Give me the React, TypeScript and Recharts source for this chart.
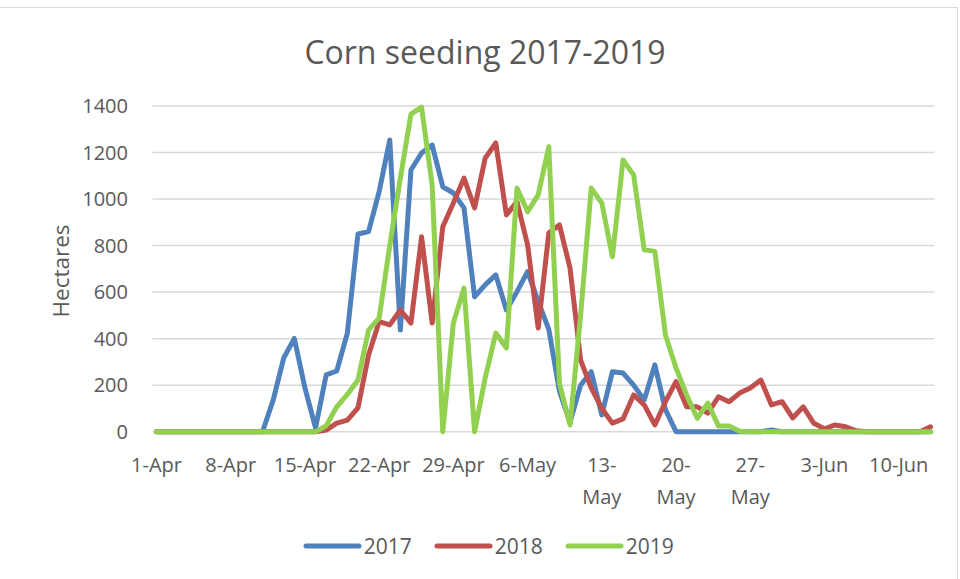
import { CartesianGrid, Legend, Line, LineChart, XAxis, YAxis } from "recharts";

const months: [string, number][] = [
  ["Apr", 30],
  ["May", 31],
  ["Jun", 13]
];
const dates = months.flatMap(([m, n]) => Array.from({ length: n }, (_, i) => `${i + 1}-${m}`));

const tickLabels = ["1-Apr", "8-Apr", "15-Apr", "22-Apr", "29-Apr", "6-May", "13-May", "20-May", "27-May", "3-Jun", "10-Jun"];
const wrappedTicks = ["13-May", "20-May", "27-May"];
const yTicks = [0, 200, 400, 600, 800, 1000, 1200, 1400];

const y2017 = [
  0, 0, 0, 0, 0, 0, 0, 0, 0, 0, 0, 135, 317, 401, 188, 16, 244, 261, 424, 850,
  860, 1032, 1254, 437, 1125, 1198, 1232, 1053, 1026, 962, 580, 631, 674, 523, 602, 688, 560, 440, 175, 40,
  200, 258, 72, 258, 252, 200, 136, 287, 95, 0, 0, 0, 0, 0, 0, 0, 0, 0, 8, 0,
  0, 0, 0, 0, 0, 0, 0, 0, 0, 0, 0, 0, 0, 0
];
const y2018 = [
  0, 0, 0, 0, 0, 0, 0, 0, 0, 0, 0, 0, 0, 0, 0, 0, 7, 37, 50, 102,
  330, 473, 459, 523, 467, 838, 467, 881, 983, 1090, 962, 1176, 1241, 932, 989, 803, 446, 854, 889, 704,
  308, 188, 100, 37, 55, 158, 115, 29, 129, 215, 107, 107, 80, 150, 129, 166, 188, 222, 115, 129,
  59, 107, 36, 12, 29, 21, 4, 0, 0, 0, 0, 0, 0, 21
];
const y2019 = [
  0, 0, 0, 0, 0, 0, 0, 0, 0, 0, 0, 0, 0, 0, 0, 0, 25, 107, 160, 222,
  437, 489, 800, 1090, 1365, 1395, 1060, 0, 467, 617, 0, 231, 424, 360, 1047, 946, 1018, 1225, 209, 29,
  500, 1047, 983, 752, 1168, 1104, 782, 775, 416, 274, 158, 58, 123, 25, 25, 2, 0, 0, 0, 0,
  0, 0, 0, 0, 0, 0, 0, 0, 0, 0, 0, 0, 0, 0
];

const data = dates.map((date, i) => ({ date, y2017: y2017[i], y2018: y2018[i], y2019: y2019[i] }));

const series = [
  { key: "y2017", name: "2017", color: "#4f81bd" },
  { key: "y2018", name: "2018", color: "#c0504d" },
  { key: "y2019", name: "2019", color: "#92d050" }
];

const font = "'Open Sans', 'Noto Sans', sans-serif";
const grey = "#595959";

function DateTick({ x, y, payload }: any) {
  const label: string = payload.value;
  const parts = label.split("-");
  const lines = wrappedTicks.includes(label) ? [parts[0] + "-", parts[1]] : [label];
  return (
    <text x={x} y={y} textAnchor="middle" fill={grey} fontSize={20} fontFamily={font}>
      {lines.map((line, i) => (
        <tspan key={i} x={x} dy={i === 0 ? 38 : 32}>
          {line}
        </tspan>
      ))}
    </text>
  );
}

function LegendRow() {
  return (
    <div style={{ display: "flex", justifyContent: "center", alignItems: "center", height: 30, paddingLeft: 42, fontFamily: font, fontSize: 21, color: grey }}>
      {series.map((s) => (
        <div key={s.key} style={{ display: "flex", alignItems: "center", margin: "0 11px" }}>
          <svg width={59} height={10} style={{ marginRight: 2 }}>
            <line x1={3} y1={5} x2={56} y2={5} stroke={s.color} strokeWidth={5} strokeLinecap="round" />
          </svg>
          <span>{s.name}</span>
        </div>
      ))}
    </div>
  );
}

export default function App() {
  return (
    <div style={{ position: "absolute", left: 0, top: 0, width: 960, height: 579, background: "#fff" }}>
      <div style={{ position: "absolute", left: 0, top: 7, width: 958, height: 572, borderTop: "1px solid #d9d9d9", borderRight: "1px solid #d9d9d9", boxSizing: "border-box" }} />
      <div style={{ position: "absolute", left: 185, top: 30, width: 600, textAlign: "center", fontFamily: font, fontSize: 32, color: grey, lineHeight: "44px" }}>
        Corn seeding 2017-2019
      </div>
      <div
        style={{
          position: "absolute",
          left: 60,
          top: 271,
          transform: "translate(-50%, -50%) rotate(-90deg)",
          fontFamily: font,
          fontSize: 22.5,
          color: grey,
          whiteSpace: "nowrap"
        }}
      >
        Hectares
      </div>
      <div style={{ position: "absolute", left: 0, top: 0 }}>
        <LineChart width={960} height={579} data={data} margin={{ top: 106, right: 25.5, bottom: 18, left: 0 }}>
          <CartesianGrid vertical={false} stroke="#d9d9d9" strokeWidth={1.5} />
          <XAxis
            dataKey="date"
            ticks={tickLabels}
            interval={0}
            tickLine={false}
            axisLine={false}
            tickSize={0}
            padding={{ left: 4, right: 4 }}
            height={99.3}
            tick={<DateTick />}
          />
          <YAxis
            domain={[0, 1400]}
            ticks={yTicks}
            tickLine={false}
            axisLine={false}
            tickSize={0}
            tickMargin={24.5}
            width={152.5}
            tick={{ fill: grey, fontSize: 20, fontFamily: font }}
          />
          <Legend verticalAlign="bottom" height={30} content={() => <LegendRow />} />
          {series.map((s) => (
            <Line
              key={s.key}
              type="linear"
              dataKey={s.key}
              name={s.name}
              stroke={s.color}
              strokeWidth={5}
              strokeLinejoin="round"
              strokeLinecap="round"
              dot={false}
              activeDot={false}
              isAnimationActive={false}
            />
          ))}
        </LineChart>
      </div>
    </div>
  );
}
